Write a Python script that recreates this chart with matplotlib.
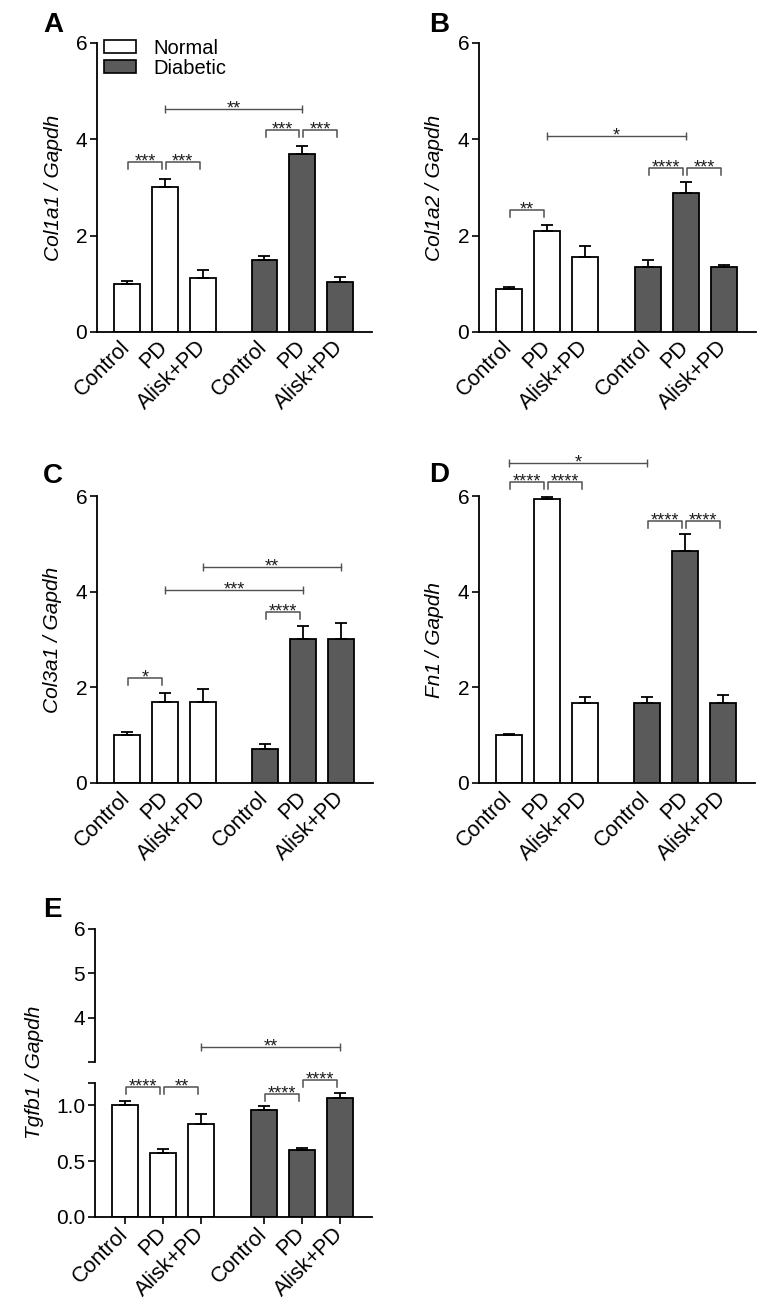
import numpy as np
import matplotlib
matplotlib.use("Agg")
import matplotlib.pyplot as plt
from matplotlib.patches import Patch

plt.rcParams['font.family'] = ['Liberation Sans', 'DejaVu Sans']

W, H = 772, 1310

treatments = ["Control", "PD", "Alisk+PD"]
tick_labels = treatments * 2
group_names = ["Normal", "Diabetic"]

# bar means and SEM (upper): Normal x3, Diabetic x3
col1a1_mean = [1.00, 3.00, 1.13, 1.49, 3.69, 1.04]
col1a1_err = [0.05, 0.17, 0.16, 0.09, 0.17, 0.10]
col1a2_mean = [0.89, 2.10, 1.56, 1.34, 2.89, 1.34]
col1a2_err = [0.04, 0.12, 0.22, 0.15, 0.22, 0.05]
col3a1_mean = [1.00, 1.69, 1.69, 0.71, 3.01, 3.01]
col3a1_err = [0.06, 0.19, 0.27, 0.10, 0.27, 0.33]
fn1_mean = [1.00, 5.94, 1.67, 1.68, 4.86, 1.67]
fn1_err = [0.02, 0.04, 0.12, 0.12, 0.34, 0.17]
tgfb1_mean = [1.00, 0.577, 0.83, 0.955, 0.60, 1.07]
tgfb1_err = [0.04, 0.035, 0.09, 0.035, 0.02, 0.04]

# significance marks: (bar i, bar j, height, stars, kind)
col1a1_sig = [(0, 1, 3.52, "***", "bracket"), (1, 2, 3.52, "***", "bracket"),
              (3, 4, 4.19, "***", "bracket"), (4, 5, 4.19, "***", "bracket"),
              (1, 4, 4.63, "**", "line")]
col1a2_sig = [(0, 1, 2.53, "**", "bracket"),
              (3, 4, 3.40, "****", "bracket"), (4, 5, 3.40, "***", "bracket"),
              (1, 4, 4.07, "*", "line")]
col3a1_sig = [(0, 1, 2.19, "*", "bracket"),
              (3, 4, 3.57, "****", "bracket"),
              (1, 4, 4.03, "***", "line"), (2, 5, 4.51, "**", "line")]
fn1_sig = [(0, 1, 6.29, "****", "bracket"), (1, 2, 6.29, "****", "bracket"),
           (3, 4, 5.48, "****", "bracket"), (4, 5, 5.48, "****", "bracket"),
           (0, 3, 6.70, "*", "line")]
tgfb1_sig = [(0, 1, 1.16, "****", "bracket"), (1, 2, 1.16, "**", "bracket"),
             (3, 4, 1.10, "****", "bracket"), (4, 5, 1.23, "****", "bracket")]
tgfb1_sig_top = [(2, 5, 3.34, "**", "line")]

positions = np.r_[np.arange(3), np.arange(3) + 3.63]
bar_colors = ["white"] * 3 + ["#5a5a5a"] * 3
sig_color = "#505050"
TICK_FS = 15
LABEL_FS = 15


def px_rect(left, top, right, bottom):
    return [left / W, 1 - bottom / H, (right - left) / W, (bottom - top) / H]


def style_axis(ax):
    for side in ("top", "right"):
        ax.spines[side].set_visible(False)
    for side in ("left", "bottom"):
        ax.spines[side].set_linewidth(1.3)
    ax.tick_params(axis="y", length=5, width=1.2, labelsize=TICK_FS, pad=2)
    ax.set_xlim(-0.79, 6.47)


def draw_bars(ax, means, errs):
    ax.bar(positions, means, width=0.68, color=bar_colors, edgecolor="black",
           linewidth=1.3, zorder=2)
    ax.errorbar(positions, means, yerr=[np.zeros(len(errs)), errs], fmt="none",
                ecolor="black", elinewidth=1.3, capsize=4.5, capthick=1.3, zorder=3)


def set_xlabels(ax, ticks=False):
    ax.set_xticks(positions)
    ax.set_xticklabels(tick_labels, rotation=45, ha="right", va="center",
                       rotation_mode="anchor", fontsize=TICK_FS + 0.5)
    ax.tick_params(axis="x", length=5 if ticks else 0, width=1.2,
                   pad=9 if not ticks else 5)


def draw_sig(ax, comps):
    bb = ax.get_window_extent()
    y0, y1 = ax.get_ylim()
    leg = 7 * (y1 - y0) / bb.height
    for i, j, y, stars, kind in comps:
        xa, xb = positions[i], positions[j]
        if kind == "bracket":
            xa, xb = xa + 0.03, xb - 0.08
            ax.plot([xa, xa, xb, xb], [y - leg, y, y, y - leg], color=sig_color,
                    lw=1.1, clip_on=False, zorder=4)
        else:
            ax.plot([xa, xb], [y, y], color=sig_color, lw=1.0, clip_on=False,
                    zorder=4)
            ax.plot([xa, xb], [y, y], ls="none", marker="|", ms=6, mew=1.0,
                    color=sig_color, clip_on=False, zorder=4)
        ax.annotate(stars, ((xa + xb) / 2, y), xytext=(0, 0), textcoords="offset points",
                    ha="center", va="center", fontsize=13, color="#1e1e1e",
                    annotation_clip=False)


fig = plt.figure(figsize=(W / 100, H / 100), dpi=100)

panels = [
    ("A", px_rect(97, 43, 372, 332), col1a1_mean, col1a1_err, col1a1_sig, "Col1a1 / Gapdh", (43, 32)),
    ("B", px_rect(479, 43, 756, 332), col1a2_mean, col1a2_err, col1a2_sig, "Col1a2 / Gapdh", (429, 32)),
    ("C", px_rect(97, 496, 373, 783), col3a1_mean, col3a1_err, col3a1_sig, "Col3a1 / Gapdh", (43, 483)),
    ("D", px_rect(479, 496, 755, 783), fn1_mean, fn1_err, fn1_sig, "Fn1 / Gapdh", (429, 482)),
]

axes = {}
for letter, rect, means, errs, sig, ylabel, lpos in panels:
    ax = fig.add_axes(rect)
    style_axis(ax)
    ax.set_ylim(0, 6)
    ax.set_yticks([0, 2, 4, 6])
    draw_bars(ax, means, errs)
    set_xlabels(ax)
    draw_sig(ax, sig)
    ax.set_ylabel(ylabel, fontsize=LABEL_FS, style="italic")
    ax.yaxis.set_label_coords(-0.125, 0.5)
    fig.text(lpos[0] / W, 1 - lpos[1] / H, letter, fontsize=20, fontweight="bold",
             va="baseline", ha="left")
    axes[letter] = ax

# legend in panel A
handles = [Patch(facecolor=c, edgecolor="black", linewidth=1.2) for c in ("white", "#5a5a5a")]
axes["A"].legend(handles, group_names, loc="upper left", bbox_to_anchor=(0.025, 1.015),
                 frameon=False, fontsize=14.5, handlelength=1.6, handleheight=0.65,
                 handletextpad=0.85, labelspacing=0.05, borderpad=0, borderaxespad=0)

# panel E with broken y axis
ax_top = fig.add_axes(px_rect(95, 929, 372, 1062))
ax_bot = fig.add_axes(px_rect(95, 1083, 372, 1217))
for ax in (ax_top, ax_bot):
    style_axis(ax)
    draw_bars(ax, tgfb1_mean, tgfb1_err)
ax_top.set_ylim(3, 6)
ax_top.set_yticks([3, 4, 5, 6])
ax_top.set_yticklabels(["", "4", "5", "6"])
ax_top.spines["bottom"].set_visible(False)
ax_top.set_xticks([])
ax_bot.set_ylim(0, 1.2)
ax_bot.set_yticks([0, 0.5, 1.0, 1.2])
ax_bot.set_yticklabels(["0.0", "0.5", "1.0", ""])
set_xlabels(ax_bot, ticks=True)
draw_sig(ax_bot, tgfb1_sig)
draw_sig(ax_top, tgfb1_sig_top)
fig.text(35 / W, 1 - 1072 / H, "Tgfb1 / Gapdh", rotation=90, ha="center", va="center",
         fontsize=LABEL_FS, style="italic")
fig.text(43 / W, 1 - 917 / H, "E", fontsize=20, fontweight="bold", va="baseline", ha="left")

fig.savefig("out.png", dpi=100)
